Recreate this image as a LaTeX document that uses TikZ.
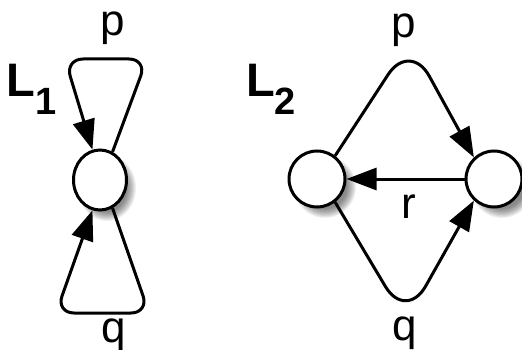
\documentclass[tikz,border=0pt]{standalone}
\usepackage{fontspec}
\setmainfont{Liberation Sans}
\usetikzlibrary{arrows.meta,shapes.geometric}
\begin{document}
\begin{tikzpicture}[x=1pt,y=-1pt,
  state/.style={circle,draw=black,line width=3pt,fill=white,minimum size=56pt,inner sep=0pt},
  estate/.style={ellipse,draw=black,line width=3pt,fill=white,minimum width=53pt,minimum height=60pt,inner sep=0pt},
  edge/.style={line width=3pt,-{Triangle[length=30pt,width=22pt]}},
  shade/.style={fill=black,opacity=0.06},
  lbl/.style={font=\fontsize{44}{48}\selectfont,anchor=base,inner sep=0pt},
  big/.style={font=\fontsize{47}{50}\bfseries\selectfont,anchor=base west,inner sep=0pt}]
\useasboundingbox (0,0) rectangle (522,350);
% shadows
\foreach \i in {0,...,9} {
  \fill[shade] (107,188) ellipse ({20+\i} and {24+\i});
  \fill[shade] (325,187) circle (22+\i);
  \fill[shade] (502,187) circle (22+\i);
}
% L1
\node[estate] (n1) at (100,180) {};
\node[big] (t1) at (6.5,97) {L\raisebox{-18pt}{\fontsize{38}{40}\bfseries\selectfont 1}};
\coordinate (c1) at (147,59);
\coordinate (c2) at (65,59);
\coordinate (c3) at (149,313);
\coordinate (c4) at (56,313);
\draw[edge,rounded corners=18pt] (n1.66) -- (c1) -- (c2) -- (n1.104);
\draw[edge,rounded corners=18pt] (n1.-66) -- (c3) -- (c4) -- (n1.-104);
\node[lbl] (p1) at (113,36) {p};
\node[lbl] (q1) at (114,342) {q};
% L2
\node[state] (a) at (317,179) {};
\node[state] (b) at (494,179) {};
\node[big] (t2) at (246,97) {L\raisebox{-18pt}{\fontsize{38}{40}\bfseries\selectfont 2}};
\coordinate (pk) at (410,41);
\coordinate (vl) at (406,321);
\draw[edge,rounded corners=40pt] (a.52) -- (pk) -- (b.133);
\draw[edge,rounded corners=40pt] (a.-52) -- (vl) -- (b.-133);
\draw[edge] (b.west) -- (a.east);
\node[lbl] (p2) at (404,38) {p};
\node[lbl] (r2) at (409,218) {r};
\node[lbl] (q2) at (405,340) {q};
\end{tikzpicture}
\end{document}
